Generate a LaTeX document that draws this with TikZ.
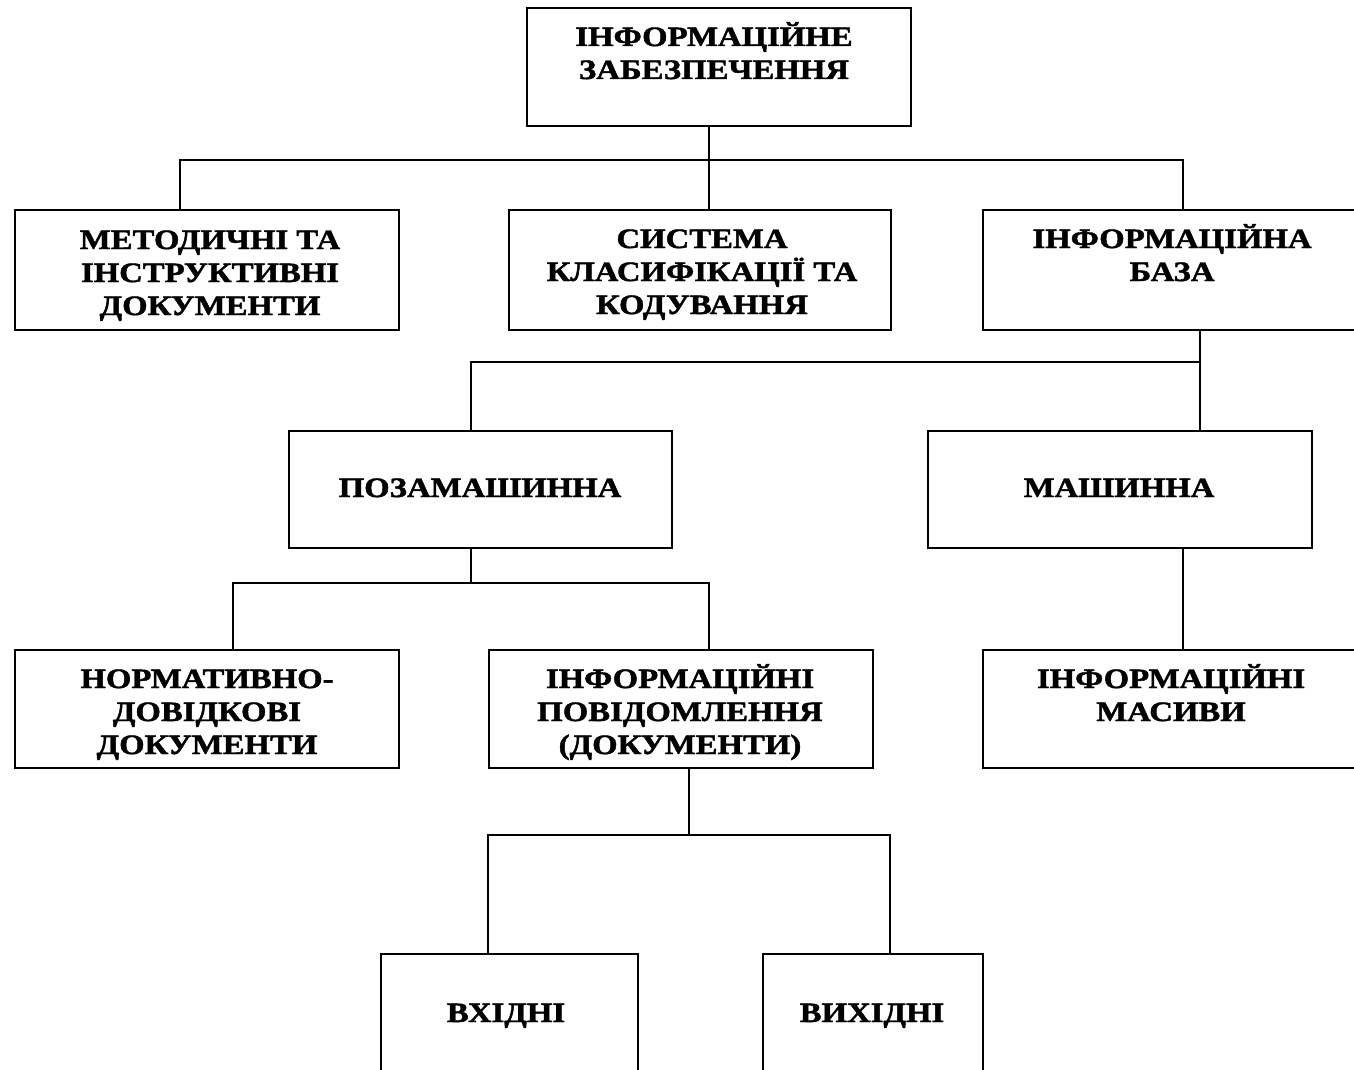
\documentclass[tikz,border=0pt]{standalone}
\usepackage{fontspec}
\newfontfamily\boxfont[FakeStretch=1.17,FakeBold=1.6]{Liberation Serif}
\begin{document}
\begin{tikzpicture}[x=1pt,y=-1pt,
  box/.style={draw, line width=1.9pt, inner sep=0pt, anchor=north west},
  lbl/.style={font=\boxfont\bfseries\fontsize{28}{33}\selectfont, align=center, anchor=base, inner sep=0pt},
  conn/.style={draw, line width=1.9pt}]
\useasboundingbox (0,0) rectangle (1354,1070);
\fill[white] (0,0) rectangle (1354,1070);
\clip (0,0) rectangle (1354,1070);
% boxes
\node[box, minimum width=384pt, minimum height=118pt] (top) at (526,7) {};
\node[box, minimum width=384pt, minimum height=120pt] (B1) at (14,209) {};
\node[box, minimum width=382pt, minimum height=120pt] (B2) at (508,209) {};
\node[box, minimum width=380pt, minimum height=120pt] (B3) at (982,209) {};
\node[box, minimum width=383pt, minimum height=117pt] (POZ) at (288,430) {};
\node[box, minimum width=384pt, minimum height=117pt] (MASH) at (927,430) {};
\node[box, minimum width=384pt, minimum height=118pt] (N1) at (14,649) {};
\node[box, minimum width=384pt, minimum height=118pt] (N2) at (488,649) {};
\node[box, minimum width=380pt, minimum height=118pt] (MAS) at (982,649) {};
\node[box, minimum width=257pt, minimum height=140pt] (V1) at (380,953) {};
\node[box, minimum width=220pt, minimum height=140pt] (V2) at (762,953) {};
% labels (anchor base = baseline of the last line)
\node[lbl] (ttop) at (714,79) {ІНФОРМАЦІЙНЕ\\ЗАБЕЗПЕЧЕННЯ};
\node[lbl] (tB1) at (210,315) {МЕТОДИЧНІ ТА\\ІНСТРУКТИВНІ\\ДОКУМЕНТИ};
\node[lbl] (tB2) at (702,314) {СИСТЕМА\\КЛАСИФІКАЦІЇ ТА\\КОДУВАННЯ};
\node[lbl] (tB3) at (1172,281) {ІНФОРМАЦІЙНА\\БАЗА};
\node[lbl] (tPOZ) at (480,497) {ПОЗАМАШИННА};
\node[lbl] (tMASH) at (1119,497) {МАШИННА};
\node[lbl] (tN1) at (207,754) {НОРМАТИВНО-\\ДОВІДКОВІ\\ДОКУМЕНТИ};
\node[lbl] (tN2) at (680,754) {ІНФОРМАЦІЙНІ\\ПОВІДОМЛЕННЯ\\(ДОКУМЕНТИ)};
\node[lbl] (tMAS) at (1171,721) {ІНФОРМАЦІЙНІ\\МАСИВИ};
\node[lbl] (tV1) at (506,1022) {ВХІДНІ};
\node[lbl] (tV2) at (872,1022) {ВИХІДНІ};
% junctions
\coordinate (h1L) at (180,160);
\coordinate (h1M) at (709,160);
\coordinate (h1R) at (1183,160);
\coordinate (h2L) at (471,362);
\coordinate (h2R) at (1200,362);
\coordinate (h3L) at (233,583);
\coordinate (h3R) at (709,583);
\coordinate (h4L) at (488,835);
\coordinate (h4M) at (689,835);
\coordinate (h4R) at (890,835);
% connectors
\path[conn] (top.south -| h1M) -- (B2.north -| h1M);
\path[conn] (B1.north -| h1L) |- (h1R) -- (B3.north -| h1R);
\path[conn] (B3.south -| h2R) -- (MASH.north -| h2R);
\path[conn] (h2R) -- (h2L) -- (POZ.north -| h2L);
\path[conn] (POZ.south -| h2L) -- (h2L |- h3L);
\path[conn] (N1.north -| h3L) |- (h3R) -- (N2.north -| h3R);
\path[conn] (MASH.south -| h1R) -- (MAS.north -| h1R);
\path[conn] (N2.south -| h4M) -- (h4M);
\path[conn] (V1.north -| h4L) |- (h4R) -- (V2.north -| h4R);
\end{tikzpicture}
\end{document}
